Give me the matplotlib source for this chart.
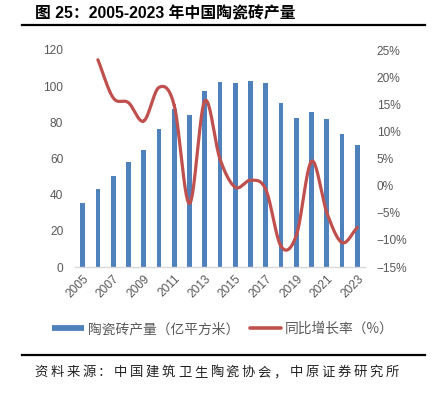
import numpy as np
import matplotlib
matplotlib.use("Agg")
import matplotlib.pyplot as plt
from matplotlib.lines import Line2D

plt.rcParams['font.family'] = ['Liberation Sans', 'Noto Sans CJK SC', 'DejaVu Sans']
plt.rcParams['axes.unicode_minus'] = True

years = list(range(2005, 2024))
production = [35.2, 43.1, 50.3, 57.9, 64.5, 76.2, 87.2, 84.0, 97.2, 102.4, 102.0,
              102.6, 101.5, 90.5, 82.6, 85.9, 81.9, 73.4, 67.5]
growth_years = list(range(2006, 2024))
growth = [23.2, 16.2, 15.3, 11.9, 18.1, 14.8, -3.3, 15.6, 4.9, -0.3, 1.0,
          -0.7, -11.2, -9.2, 4.5, -5.0, -10.5, -7.7]
left_ticks = [0, 20, 40, 60, 80, 100, 120]
right_ticks = [-15, -10, -5, 0, 5, 10, 15, 20, 25]

title = "图 25：2005-2023 年中国陶瓷砖产量"
source = "资料来源：中国建筑卫生陶瓷协会，中原证券研究所"
bar_label = "陶瓷砖产量（亿平方米）"
line_label = "同比增长率（%）"

BLUE = "#4F81BD"
RED = "#C0504D"
GRAY = "#595959"

W, H = 434, 399
fig = plt.figure(figsize=(W / 100, H / 100), dpi=100)
ax = fig.add_axes([75 / W, 1 - 267 / H, 290 / W, 217 / H])

x = np.arange(len(years))
ax.bar(x, production, width=0.31, color=BLUE, zorder=2)
ax.set_xlim(-0.5, len(years) - 0.5)
ax.set_ylim(0, 120)
ax.set_yticks(left_ticks)
ax.set_yticklabels([str(t) for t in left_ticks])
ax.set_xticks(x[::2])
ax.set_xticklabels([str(y) for y in years[::2]], rotation=45, ha='right',
                   rotation_mode='anchor')
for s in ['top', 'right', 'left']:
    ax.spines[s].set_visible(False)
ax.spines['bottom'].set_color('#D9D9D9')
ax.spines['bottom'].set_linewidth(1.0)
ax.tick_params(axis='both', length=0, colors=GRAY, labelsize=8.6)
ax.tick_params(axis='y', pad=8.5)
ax.tick_params(axis='x', pad=4)

ax2 = ax.twinx()
ax2.set_ylim(-15, 25)
ax2.set_yticks(right_ticks)
ax2.set_yticklabels([f"{t}%" if t >= 0 else f"\u2212{abs(t)}%" for t in right_ticks])
for s in ax2.spines.values():
    s.set_visible(False)
ax2.tick_params(axis='y', length=0, colors=GRAY, labelsize=8.6, pad=8.5)

# smooth line (Catmull-Rom through the data points, like Excel smoothing)
gx = np.array([years.index(y) for y in growth_years], dtype=float)
gy = np.array(growth, dtype=float)
P = np.vstack([gx, gy]).T
Pp = np.vstack([P[0] - (P[1] - P[0]), P, P[-1] + (P[-1] - P[-2])])
xs, ys = [], []
t = np.linspace(0, 1, 30)
for i in range(1, len(Pp) - 2):
    p0, p1, p2, p3 = Pp[i - 1], Pp[i], Pp[i + 1], Pp[i + 2]
    seg = 0.5 * ((2 * p1)[None, :] + (-p0 + p2)[None, :] * t[:, None]
                 + (2 * p0 - 5 * p1 + 4 * p2 - p3)[None, :] * (t ** 2)[:, None]
                 + (-p0 + 3 * p1 - 3 * p2 + p3)[None, :] * (t ** 3)[:, None])
    xs.extend(seg[:, 0]); ys.extend(seg[:, 1])
ax2.plot(xs, ys, color=RED, lw=2.3, solid_capstyle='round', zorder=3)

# legend
handles = [Line2D([], [], color=BLUE, lw=4.2, solid_capstyle='butt'),
           Line2D([], [], color=RED, lw=2.6, solid_capstyle='round')]
leg = fig.legend(handles, [bar_label, line_label], loc='center',
                 bbox_to_anchor=(223 / W, 1 - 329 / H), ncol=2, frameon=False,
                 handlelength=2.3, handletextpad=0.25,
                 columnspacing=0.8, prop={'family': ['Noto Sans CJK SC'], 'size': 9.9})
for txt in leg.get_texts():
    txt.set_color(GRAY)

# title and source
fig.text(35 / W, 1 - 14 / H, title, fontsize=11.4, fontweight='bold',
         ha='left', va='center', family=['Liberation Sans', 'Noto Sans CJK SC'])
fig.add_artist(Line2D([22 / W, 425 / W], [1 - 25 / H, 1 - 25 / H],
                      color='black', lw=1.6, transform=fig.transFigure))
fig.add_artist(Line2D([22 / W, 425 / W], [1 - 355 / H, 1 - 355 / H],
                      color='black', lw=1.6, transform=fig.transFigure))
pitch = (400 - 33) / len(source)
for i, ch in enumerate(source):
    fig.text((33 + pitch * i + pitch / 2) / W, 1 - 372 / H, ch, fontsize=9.6,
             ha='center', va='center', family=['Noto Sans CJK SC'], color='#222222')

fig.savefig("out.png", dpi=100)
